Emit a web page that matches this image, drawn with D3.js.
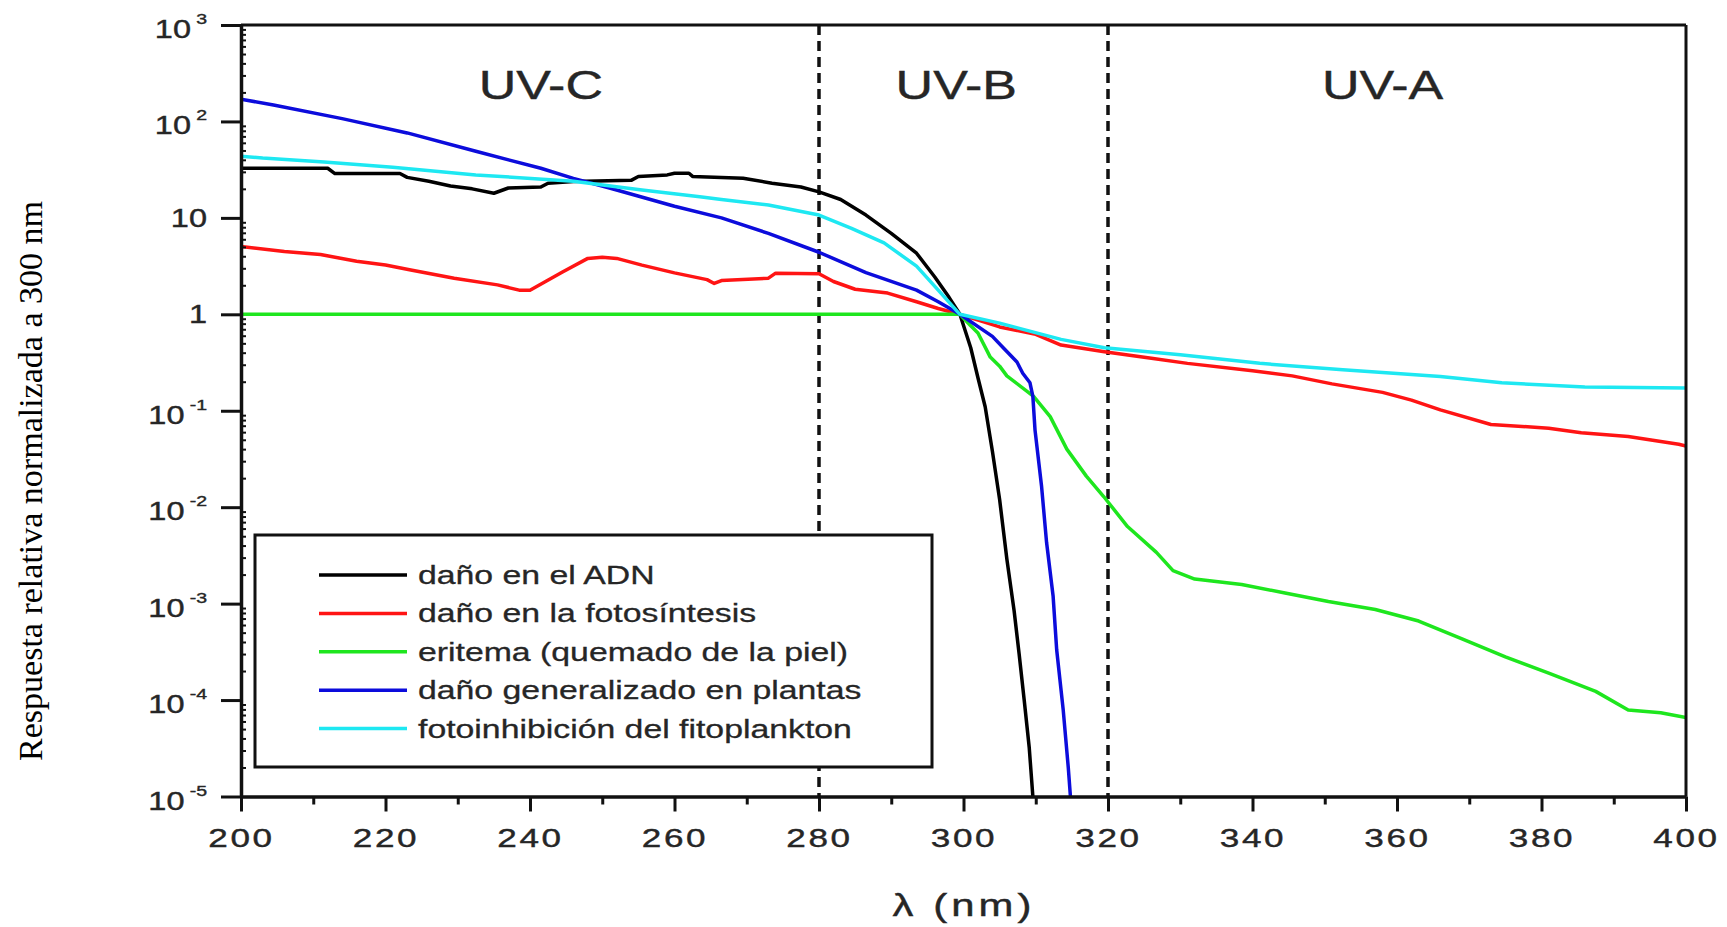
<!DOCTYPE html>
<html>
<head>
<meta charset="utf-8">
<script src="https://cdn.jsdelivr.net/npm/d3@7"></script>
<style>
  html, body { margin: 0; padding: 0; background: #fff; }
  svg { display: block; }
</style>
</head>
<body>
<svg id="chart" width="1727" height="927"></svg>
<script>
// ---- Action spectra, normalised to 1 at 300 nm ----
const dnaNm  = [200, 212, 213, 222, 223, 226, 229, 232, 235, 237, 241.5, 242.5, 246, 254, 255, 259, 260, 262, 262.5, 266.5, 269.5, 273.5, 277.5, 280, 283, 286.5, 290, 293.5, 296, 298, 299.5, 301, 302, 303, 304, 305, 306, 307, 307.7, 308.4, 309.1, 309.6];
const dnaVal = [32.7, 32.7, 28.8, 28.8, 26.3, 24.0, 21.4, 20.0, 18.0, 20.4, 20.9, 22.9, 23.8, 24.5, 26.9, 27.9, 29.0, 29.0, 26.9, 26.3, 25.7, 22.9, 20.9, 18.6, 15.5, 10.7, 6.9, 4.3, 2.45, 1.5, 1.0, 0.45, 0.22, 0.11, 0.038, 0.012, 0.0029, 8.5e-4, 3.0e-4, 1.0e-4, 3.2e-5, 1.0e-5];

const photoNm  = [200, 206, 211, 216, 220, 223.5, 229.5, 235.5, 238.5, 240, 244.5, 248, 250, 252, 255.5, 260, 264.5, 265.5, 266.5, 273, 274, 280, 282, 285, 289.5, 293.5, 296.5, 299.5, 305, 310, 313.5, 319.5, 326, 331, 340, 345.5, 351, 358, 362, 366, 373, 381, 385.5, 392, 399, 400];
const photoVal = [5.05, 4.47, 4.17, 3.55, 3.24, 2.88, 2.37, 2.02, 1.78, 1.78, 2.75, 3.8, 3.9, 3.8, 3.24, 2.69, 2.29, 2.09, 2.24, 2.37, 2.67, 2.63, 2.19, 1.82, 1.66, 1.35, 1.15, 1.0, 0.74, 0.62, 0.48, 0.41, 0.35, 0.31, 0.26, 0.23, 0.19, 0.155, 0.129, 0.102, 0.072, 0.066, 0.059, 0.054, 0.045, 0.043];

const erythNm  = [200, 299.5, 301, 302, 303.7, 305, 306, 309.7, 312, 314.3, 317, 319.4, 322.7, 326.7, 329, 332, 338.5, 344.5, 350.5, 357, 363, 369, 375, 381, 387.5, 392, 396.5, 400];
const erythVal = [1, 1, 0.76, 0.64, 0.36, 0.29, 0.23, 0.141, 0.087, 0.040, 0.021, 0.0129, 0.0063, 0.0034, 0.0022, 0.0018, 0.00158, 0.00129, 0.00105, 8.7e-4, 6.6e-4, 4.3e-4, 2.8e-4, 1.9e-4, 1.23e-4, 7.9e-5, 7.4e-5, 6.6e-5];

const plantNm  = [200, 204.5, 214, 223, 232.5, 241.5, 246, 251, 260, 266.5, 273, 280, 286.5, 293.5, 296.5, 299.5, 304, 305.5, 307.4, 308.2, 309.2, 309.6, 309.9, 310.8, 311.5, 312.4, 312.9, 313.8, 314.5, 314.8];
const plantVal = [170, 148, 107, 76, 49, 32.7, 25.7, 20.4, 13.2, 10.0, 6.9, 4.4, 2.7, 1.78, 1.35, 1.0, 0.59, 0.45, 0.32, 0.245, 0.195, 0.141, 0.063, 0.0166, 0.0043, 0.0012, 3.3e-4, 7.9e-5, 2.0e-5, 1.0e-5];

const phytoNm  = [200, 203, 211.5, 221, 232.5, 246, 255.5, 263.5, 266.5, 273, 280, 284.5, 289, 293.5, 296.5, 299.5, 305, 313.5, 319.5, 330, 341, 352.5, 366, 374.5, 386, 400];
const phytoVal = [43.6, 41.7, 38.0, 33.5, 27.9, 24.0, 19.5, 16.6, 15.5, 13.6, 10.7, 7.8, 5.5, 3.16, 1.78, 1.0, 0.81, 0.55, 0.45, 0.38, 0.31, 0.266, 0.227, 0.195, 0.176, 0.172];

const seriesNames = ["daño en el ADN", "daño en la fotosíntesis", "eritema (quemado de la piel)", "daño generalizado en plantas", "fotoinhibición del fitoplankton"];

// ---- Axes and band annotations ----
const xTicks      = [200, 220, 240, 260, 280, 300, 320, 340, 360, 380, 400];
const xMinorTicks = [210, 230, 250, 270, 290, 310, 330, 350, 370, 390];
const yExponents  = [-5, -4, -3, -2, -1, 0, 1, 2, 3];
const bandEdges   = [280, 320];
const bandNames   = ["UV-C", "UV-B", "UV-A"];
const bandLabelNm = [241.5, 299, 358];

// ---- Styling ----
const seriesColors = ["#000000", "#ff1414", "#1ee61e", "#0c0cdc", "#1ee8f2"];
const sansFont = "'Liberation Sans', Arial, Helvetica, sans-serif";
const serifFont = "'Liberation Serif', 'Times New Roman', serif";
const inkColor = "#262626";
const stretch = 1.3;   // wide lettering used throughout the figure

const svg = d3.select("#chart");
svg.append("rect").attr("width", 1727).attr("height", 927).attr("fill", "#fff");

const plot = { left: 241, right: 1686, top: 25, bottom: 796.5 };
const x = d3.scaleLinear().domain([200, 400]).range([plot.left, plot.right]);
const y = d3.scaleLog().domain([1e-5, 1e3]).range([plot.bottom, plot.top]);

svg.append("defs").append("clipPath").attr("id", "plotClip")
  .append("rect")
  .attr("x", plot.left).attr("y", plot.top)
  .attr("width", plot.right - plot.left).attr("height", plot.bottom - plot.top);

// Dashed band boundaries (UV-C | UV-B | UV-A)
svg.append("g").selectAll("line").data(bandEdges).join("line")
  .attr("x1", d => x(d)).attr("x2", d => x(d))
  .attr("y1", plot.top).attr("y2", plot.bottom)
  .attr("stroke", "#111").attr("stroke-width", 3.5)
  .attr("stroke-dasharray", "10,6");

// Band labels
svg.append("g").selectAll("text").data(bandNames).join("text")
  .attr("transform", (d, i) => `translate(${x(bandLabelNm[i])},99) scale(${stretch},1)`)
  .attr("text-anchor", "middle")
  .attr("font-family", sansFont).attr("font-size", 40)
  .attr("fill", inkColor).attr("stroke", inkColor).attr("stroke-width", 0.4)
  .text(d => d);

// Spectral curves
const series = [
  { nm: dnaNm,   val: dnaVal },
  { nm: photoNm, val: photoVal },
  { nm: erythNm, val: erythVal },
  { nm: plantNm, val: plantVal },
  { nm: phytoNm, val: phytoVal }
];
const line = d3.line().x(d => x(d[0])).y(d => y(d[1]));
svg.append("g").attr("clip-path", "url(#plotClip)")
  .selectAll("path").data(series).join("path")
  .attr("d", s => line(d3.zip(s.nm, s.val)))
  .attr("fill", "none")
  .attr("stroke", (s, i) => seriesColors[i])
  .attr("stroke-width", 3.5)
  .attr("stroke-linejoin", "round");

// Frame: top and right edges
svg.append("line")
  .attr("x1", plot.left).attr("x2", plot.right)
  .attr("y1", plot.top).attr("y2", plot.top)
  .attr("stroke", "#111").attr("stroke-width", 3);
svg.append("line")
  .attr("x1", plot.right).attr("x2", plot.right)
  .attr("y1", plot.top).attr("y2", plot.bottom)
  .attr("stroke", "#111").attr("stroke-width", 3);

// X axis
const xAxisG = svg.append("g").attr("transform", `translate(0,${plot.bottom})`)
  .call(d3.axisBottom(x).tickValues(xTicks).tickSize(15).tickSizeOuter(0).tickPadding(17)
    .tickFormat(d3.format("d")));
xAxisG.select(".domain").attr("stroke", "#111").attr("stroke-width", 3.5);
xAxisG.selectAll(".tick line").attr("stroke", "#111").attr("stroke-width", 3);
xAxisG.selectAll(".tick text")
  .attr("font-family", sansFont).attr("font-size", 26)
  .attr("fill", inkColor).attr("stroke", inkColor).attr("stroke-width", 0.4)
  .attr("letter-spacing", 2)
  .attr("transform", "scale(1.35,1)");

const xMinorG = svg.append("g").attr("transform", `translate(0,${plot.bottom})`)
  .call(d3.axisBottom(x).tickValues(xMinorTicks).tickSize(8).tickFormat(""));
xMinorG.select(".domain").remove();
xMinorG.selectAll(".tick line").attr("stroke", "#111").attr("stroke-width", 3);

// Y axis (log)
const yAxisG = svg.append("g").attr("transform", `translate(${plot.left},0)`)
  .call(d3.axisLeft(y).tickValues(yExponents.map(e => Math.pow(10, e)))
    .tickSize(20).tickSizeOuter(0).tickFormat(""));
yAxisG.select(".domain").attr("stroke", "#111").attr("stroke-width", 3.5);
yAxisG.selectAll(".tick line").attr("stroke", "#111").attr("stroke-width", 3);

const yMinorValues = [];
yExponents.slice(0, -1).forEach(e => {
  for (let k = 2; k <= 9; k++) yMinorValues.push(k * Math.pow(10, e));
});
const yMinorG = svg.append("g").attr("transform", `translate(${plot.left},0)`)
  .call(d3.axisRight(y).tickValues(yMinorValues).tickSize(5).tickFormat(""));
yMinorG.select(".domain").remove();
yMinorG.selectAll(".tick line").attr("stroke", "#111").attr("stroke-width", 2);

// Y tick labels: 10^n with superscript exponent, "1" and "10" written plainly
const yLabels = svg.append("g");
yExponents.forEach(e => {
  const plain = (e === 0 || e === 1);
  const t = yLabels.append("text")
    .attr("transform", `translate(207,${y(Math.pow(10, e)) + (plain ? 9 : 13)}) scale(${stretch},1)`)
    .attr("text-anchor", "end")
    .attr("font-family", sansFont).attr("font-size", 25)
    .attr("fill", inkColor).attr("stroke", inkColor).attr("stroke-width", 0.4);
  if (plain) {
    t.text(e === 0 ? "1" : "10");
  } else {
    t.append("tspan").text("10");
    t.append("tspan").attr("dx", 4).attr("dy", -14).attr("font-size", 15).text(String(e));
  }
});

// Axis titles
svg.append("text")
  .attr("transform", "translate(964,916) scale(1.35,1)")
  .attr("text-anchor", "middle")
  .attr("font-family", sansFont).attr("font-size", 31)
  .attr("letter-spacing", 3)
  .attr("fill", inkColor).attr("stroke", inkColor).attr("stroke-width", 0.4)
  .text("λ (nm)");

svg.append("text")
  .attr("transform", "translate(42,481) rotate(-90)")
  .attr("text-anchor", "middle")
  .attr("font-family", serifFont).attr("font-size", 34)
  .attr("fill", "#000")
  .text("Respuesta relativa normalizada a 300 nm");

// Legend
const legend = svg.append("g");
legend.append("rect")
  .attr("x", 255).attr("y", 535).attr("width", 677).attr("height", 232)
  .attr("fill", "#fff").attr("stroke", "#111").attr("stroke-width", 3);
const rowY = i => 575 + i * 38.4;
legend.selectAll("line.key").data(seriesNames).join("line")
  .attr("class", "key")
  .attr("x1", 319).attr("x2", 407)
  .attr("y1", (d, i) => rowY(i)).attr("y2", (d, i) => rowY(i))
  .attr("stroke", (d, i) => seriesColors[i]).attr("stroke-width", 3.5);
legend.selectAll("text").data(seriesNames).join("text")
  .attr("transform", (d, i) => `translate(418,${rowY(i) + 9}) scale(${stretch},1)`)
  .attr("font-family", sansFont).attr("font-size", 26)
  .attr("fill", inkColor).attr("stroke", inkColor).attr("stroke-width", 0.3)
  .text(d => d);
</script>
</body>
</html>
